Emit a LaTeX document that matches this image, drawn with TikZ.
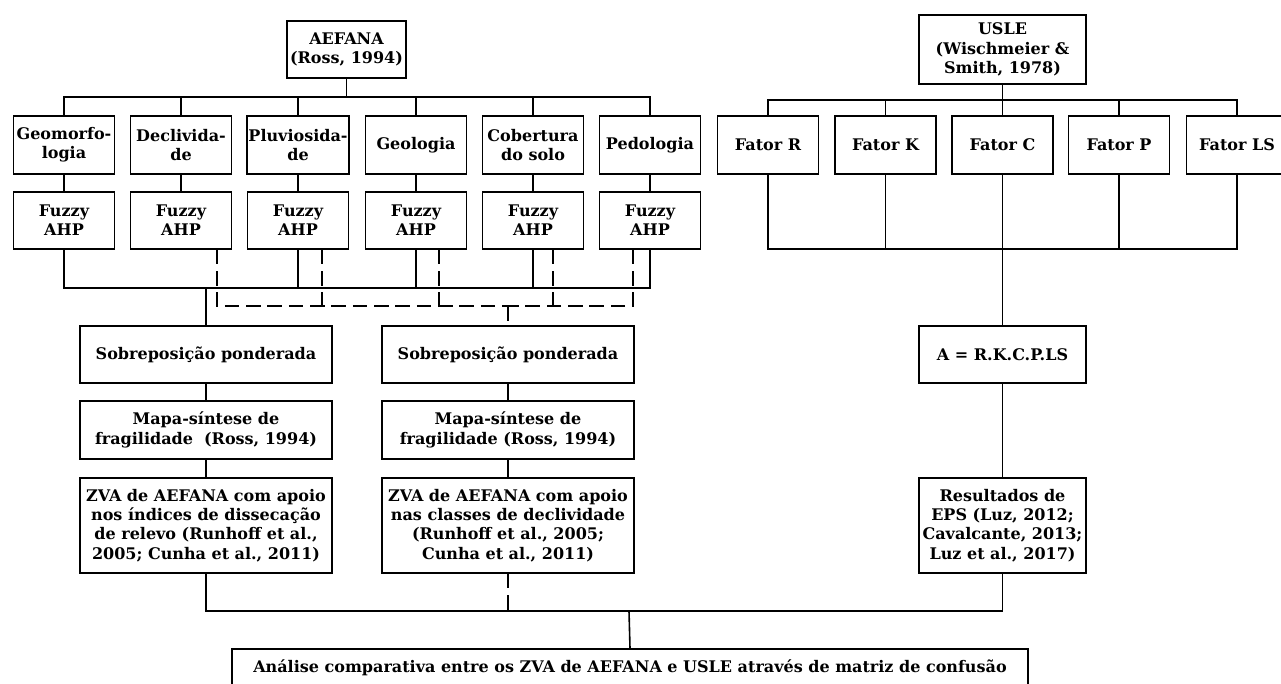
\documentclass[tikz,border=0pt]{standalone}
\usepackage{fontspec}
\setmainfont{DejaVu Serif}
\usetikzlibrary{calc}

\begin{document}
\begin{tikzpicture}[x=0.75pt,y=-0.75pt,
	caixa/.style={draw,line width=1.2pt,align=center,inner sep=1pt,font=\fontsize{12}{14.5}\selectfont\bfseries},
	tam/.style 2 args={minimum width=#1*0.75pt,minimum height=#2*0.75pt},
	liga/.style={line width=1.2pt},
	tracejado/.style={line width=1.2pt,dash pattern=on 11pt off 5pt}]
	\useasboundingbox (0,0) rectangle (1281,684);
	\node[caixa,tam={119}{57}] (aefana) at (346.5,49.5) {AEFANA\\(Ross, 1994)};
	\node[caixa,tam={167}{69}] (usle) at (1002.5,49.5) {USLE\\(Wischmeier \&\\Smith, 1978)};
	\node[caixa,tam={101}{58}] (geomorf) at (64,145) {Geomorfo-\\logia};
	\node[caixa,tam={101}{58}] (decliv) at (181,145) {Declivida-\\de};
	\node[caixa,tam={101}{58}] (pluv) at (298,145) {Pluviosida-\\de};
	\node[caixa,tam={101}{58}] (geol) at (416,145) {Geologia};
	\node[caixa,tam={101}{58}] (cobert) at (533,145) {Cobertura\\do solo};
	\node[caixa,tam={101}{58}] (pedol) at (650,145) {Pedologia};
	\node[caixa,tam={101}{57}] (fz1) at (64,220.5) {Fuzzy\\AHP};
	\node[caixa,tam={101}{57}] (fz2) at (181,220.5) {Fuzzy\\AHP};
	\node[caixa,tam={101}{57}] (fz3) at (298,220.5) {Fuzzy\\AHP};
	\node[caixa,tam={101}{57}] (fz4) at (416,220.5) {Fuzzy\\AHP};
	\node[caixa,tam={101}{57}] (fz5) at (533,220.5) {Fuzzy\\AHP};
	\node[caixa,tam={101}{57}] (fz6) at (650,220.5) {Fuzzy\\AHP};
	\node[caixa,tam={101}{58}] (fatorR) at (768,145) {Fator R};
	\node[caixa,tam={101}{58}] (fatorK) at (885.5,145) {Fator K};
	\node[caixa,tam={101}{58}] (fatorC) at (1002.5,145) {Fator C};
	\node[caixa,tam={101}{58}] (fatorP) at (1119,145) {Fator P};
	\node[caixa,tam={101}{58}] (fatorLS) at (1237,145) {Fator LS};
	\node[caixa,tam={252}{57}] (sob1) at (206,354.5) {Sobreposição ponderada};
	\node[caixa,tam={252}{57}] (sob2) at (508,354.5) {Sobreposição ponderada};
	\node[caixa,tam={252}{58}] (mapa1) at (206,430) {Mapa-síntese de\\fragilidade\ \ (Ross, 1994)};
	\node[caixa,tam={252}{58}] (mapa2) at (508,430) {Mapa-síntese de\\fragilidade (Ross, 1994)};
	\node[caixa,tam={252}{95}] (zva1) at (206,525.5) {ZVA de AEFANA com apoio\\nos índices de dissecação\\de relevo (Runhoff et al.,\\2005; Cunha et al., 2011)};
	\node[caixa,tam={252}{95}] (zva2) at (508,525.5) {ZVA de AEFANA com apoio\\nas classes de declividade\\(Runhoff et al., 2005;\\Cunha et al., 2011)};
	\node[caixa,tam={167}{57}] (aeq) at (1002.5,354.5) {A = R.K.C.P.LS};
	\node[caixa,tam={167}{95}] (res) at (1002.5,525.5) {Resultados de\\EPS (Luz, 2012;\\Cavalcante, 2013;\\Luz et al., 2017)};
	\node[caixa,tam={796}{37}] (final) at (630,667.5) {Análise comparativa entre os ZVA de AEFANA e USLE através de matriz de confusão};
	% AEFANA
	\coordinate (abus) at (346.5,97);
	\draw[liga] (aefana) -- (abus);
	\draw[liga] (abus) -| (geomorf.north);
	\draw[liga] (abus) -| (decliv.north);
	\draw[liga] (abus) -| (pluv.north);
	\draw[liga] (abus) -| (geol.north);
	\draw[liga] (abus) -| (cobert.north);
	\draw[liga] (abus) -| (pedol.north);
	\draw[liga] (geomorf) -- (fz1);
	\draw[liga] (decliv) -- (fz2);
	\draw[liga] (pluv) -- (fz3);
	\draw[liga] (geol) -- (fz4);
	\draw[liga] (cobert) -- (fz5);
	\draw[liga] (pedol) -- (fz6);
	\coordinate (sbus) at (206,288);
	\draw[liga] (fz1.south) |- (sbus);
	\draw[liga] (fz3.south) |- (sbus);
	\draw[liga] (fz4.south) |- (sbus);
	\draw[liga] (fz5.south) |- (sbus);
	\draw[liga] (fz6.south) |- (sbus);
	\draw[liga] (sbus) -- (sob1.north);
	\coordinate (dbus) at (508,306);
	\draw[tracejado] ($(fz2.south)+(36,0)$) |- (dbus);
	\draw[tracejado] ($(fz6.south)+(-17,0)$) |- (dbus);
	\draw[tracejado] ($(fz3.south)+(24,0)$) -- +(0,57);
	\draw[tracejado] ($(fz4.south)+(23,0)$) -- +(0,57);
	\draw[tracejado] ($(fz5.south)+(20,0)$) -- +(0,57);
	\draw[tracejado] (dbus) -- (sob2.north);
	\draw[liga] (sob1) -- (mapa1);
	\draw[liga] (mapa1) -- (zva1);
	\draw[liga] (sob2) -- (mapa2);
	\draw[liga] (mapa2) -- (zva2);
	% USLE
	\coordinate (ubus) at (1002.5,100);
	\draw[liga] (usle) -- (ubus);
	\draw[liga] (ubus) -| (fatorR.north);
	\draw[liga] (ubus) -| (fatorK.north);
	\draw[liga] (ubus) -| (fatorC.north);
	\draw[liga] (ubus) -| (fatorP.north);
	\draw[liga] (ubus) -| (fatorLS.north);
	\coordinate (cbus) at (1002.5,249);
	\draw[liga] (fatorR.south) |- (cbus);
	\draw[liga] (fatorK.south) |- (cbus);
	\draw[liga] (fatorP.south) |- (cbus);
	\draw[liga] (fatorLS.south) |- (cbus);
	\draw[liga] (fatorC) -- (aeq);
	\draw[liga] (aeq) -- (res);
	% comparacao
	\coordinate (fbus) at (629,611);
	\draw[liga] (zva1.south) |- (fbus);
	\draw[liga] (res.south) |- (fbus);
	\draw[tracejado] (zva2.south) -- (zva2.south |- fbus);
	\draw[liga] (fbus) -- (final.north);
\end{tikzpicture}
\end{document}
